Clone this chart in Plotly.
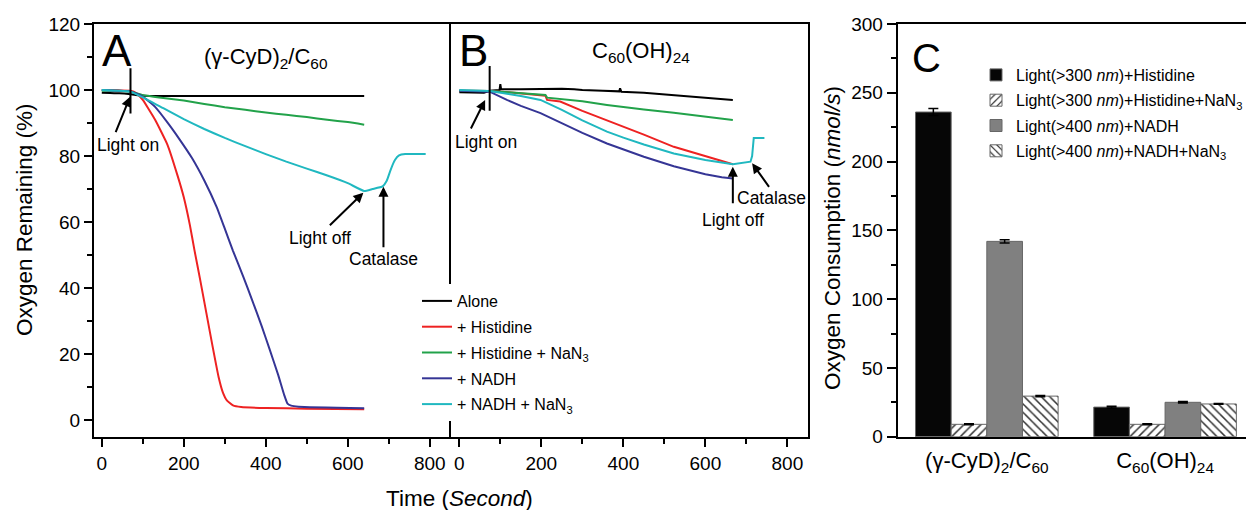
import plotly.graph_objects as go

# ---------------- data: panel A  (gamma-CyD)2/C60 ----------------
tA_alone = [0, 20, 40, 60, 70, 100, 200, 300, 400, 500, 600, 640]
yA_alone = [99.2, 99.1, 99.0, 98.9, 98.7, 98.3, 98.2, 98.2, 98.2, 98.2, 98.2, 98.2]

tA_his = [0, 40, 70, 85, 100, 130, 160, 185, 200, 215, 226, 240, 255, 270, 285, 295, 305, 320, 340, 400, 500, 640]
yA_his = [100.0, 99.9, 99.8, 99.0, 97.0, 91.0, 83.5, 74.0, 67.5, 59.0, 51.5, 42.5, 32.5, 22.5, 13.0, 8.5, 6.0, 4.5, 4.0, 3.7, 3.5, 3.3]

tA_hisn = [0, 40, 70, 100, 150, 200, 250, 300, 350, 400, 450, 500, 550, 600, 640]
yA_hisn = [99.8, 99.8, 99.5, 98.5, 97.6, 96.8, 95.8, 94.8, 94.0, 93.2, 92.5, 91.8, 91.0, 90.3, 89.5]

tA_nadh = [0, 40, 70, 100, 130, 160, 190, 220, 250, 280, 300, 320, 345, 366, 390, 409, 430, 445, 453, 462, 480, 640]
yA_nadh = [100.0, 99.8, 99.6, 98.0, 94.9, 90.2, 85.0, 79.4, 72.6, 64.6, 58.0, 51.3, 43.5, 36.6, 28.5, 21.6, 13.8, 7.6, 5.0, 4.4, 4.1, 3.6]

tA_nadhn = [0, 40, 70, 100, 150, 200, 250, 300, 350, 400, 450, 500, 550, 600, 640, 660, 685, 695, 705, 715, 725, 740, 790]
yA_nadhn = [100.0, 99.8, 99.5, 97.8, 94.5, 91.2, 88.2, 85.5, 83.0, 80.6, 78.3, 76.2, 74.1, 71.8, 69.4, 70.0, 70.8, 72.5, 76.0, 78.8, 80.2, 80.6, 80.6]

# ---------------- data: panel B  C60(OH)24 ----------------
tB_alone = [0, 60, 74, 98, 100, 102, 150, 200, 250, 280, 300, 350, 390, 392, 395, 450, 523, 600, 667]
yB_alone = [99.3, 99.2, 99.8, 100.0, 101.8, 100.2, 100.2, 100.3, 100.4, 100.2, 100.0, 99.8, 99.6, 100.5, 99.5, 99.2, 98.5, 97.7, 97.0]

tB_his = [0, 74, 120, 150, 198, 210, 214, 246, 300, 360, 400, 450, 523, 600, 667]
yB_his = [99.8, 99.7, 99.3, 99.0, 98.5, 98.3, 97.0, 96.5, 93.7, 90.9, 89.0, 86.5, 82.8, 80.0, 77.5]

tB_hisn = [0, 74, 120, 150, 198, 210, 214, 250, 300, 360, 400, 450, 523, 600, 667]
yB_hisn = [99.8, 99.7, 99.3, 99.0, 98.5, 98.5, 97.7, 97.3, 96.6, 95.5, 94.8, 94.1, 93.1, 92.0, 90.9]

tB_nadh = [0, 74, 116, 150, 198, 250, 300, 360, 400, 450, 523, 600, 640, 667]
yB_nadh = [99.8, 99.5, 97.0, 95.2, 93.0, 90.0, 87.0, 83.8, 82.0, 79.8, 76.9, 74.5, 73.6, 73.2]

tB_nadhn = [0, 74, 120, 150, 198, 250, 300, 360, 400, 450, 523, 600, 667, 690, 710, 714, 718, 744]
yB_nadhn = [100.0, 99.7, 98.8, 98.2, 97.0, 94.0, 90.8, 87.4, 85.6, 83.5, 80.8, 78.8, 77.5, 78.0, 78.3, 80.0, 85.5, 85.5]

series_names = ["Alone", "+ Histidine", "+ Histidine + NaN<sub>3</sub>", "+ NADH", "+ NADH + NaN<sub>3</sub>"]
series_colors = ["#000000", "#ee2222", "#22a24a", "#353595", "#20b8c0"]

# ---------------- data: panel C ----------------
groups = ["(γ-CyD)<sub>2</sub>/C<sub>60</sub>", "C<sub>60</sub>(OH)<sub>24</sub>"]
bar_names = ["Light(>300 <i>nm</i>)+Histidine", "Light(>300 <i>nm</i>)+Histidine+NaN<sub>3</sub>",
             "Light(>400 <i>nm</i>)+NADH", "Light(>400 <i>nm</i>)+NADH+NaN<sub>3</sub>"]
c_his = [236.0, 21.5]
c_his_err = [2.5, 0.6]
c_hisn = [9.0, 9.0]
c_hisn_err = [0.4, 0.4]
c_nadh = [142.0, 25.0]
c_nadh_err = [1.2, 0.5]
c_nadhn = [29.5, 23.8]
c_nadhn_err = [0.5, 0.3]

# event markers (time, value)
LIGHT_ON_A = 70
LIGHT_ON_B = 74

W, H = 1246, 510
FONT = "Liberation Sans, Arial, sans-serif"


def px(x):
    return x / W


def py(y):
    return 1 - y / H


fig = go.Figure()

A_sets = [(tA_alone, yA_alone), (tA_his, yA_his), (tA_hisn, yA_hisn), (tA_nadh, yA_nadh), (tA_nadhn, yA_nadhn)]
B_sets = [(tB_alone, yB_alone), (tB_his, yB_his), (tB_hisn, yB_hisn), (tB_nadh, yB_nadh), (tB_nadhn, yB_nadhn)]

for i, (t, y) in enumerate(A_sets):
    fig.add_trace(go.Scatter(x=t, y=y, mode="lines", name=series_names[i],
                             line=dict(color=series_colors[i], width=2, shape="spline", smoothing=0.4),
                             legendgroup="g%d" % i, legend="legend",
                             xaxis="x", yaxis="y"))
for i, (t, y) in enumerate(B_sets):
    fig.add_trace(go.Scatter(x=t, y=y, mode="lines", name=series_names[i],
                             line=dict(color=series_colors[i], width=2),
                             legendgroup="g%d" % i, showlegend=False,
                             xaxis="x2", yaxis="y2"))

bar_vals = [(c_his, c_his_err), (c_hisn, c_hisn_err), (c_nadh, c_nadh_err), (c_nadhn, c_nadhn_err)]
bar_fill = ["#060606", "white", "#808080", "white"]
bar_pat = ["", "/", "", "\\"]
for i, (v, e) in enumerate(bar_vals):
    marker = dict(color=bar_fill[i], line=dict(color="#666666", width=1))
    if bar_pat[i]:
        marker["pattern"] = dict(shape=bar_pat[i], fgcolor="#333333", bgcolor="white",
                                 size=6, solidity=0.25, fillmode="replace")
    fig.add_trace(go.Bar(x=groups, y=v, name=bar_names[i], marker=marker,
                         error_y=dict(type="data", array=e, color="black", thickness=1.5, width=5),
                         legendgroup="c%d" % i, legend="legend2",
                         xaxis="x3", yaxis="y3"))

ydom = [py(436.7), py(24)]
tickfont = dict(family=FONT, size=19, color="black")
common = dict(showgrid=False, zeroline=False, showline=True, linecolor="black", linewidth=2,
              tickfont=tickfont, tickcolor="black", tickwidth=1.5, automargin=False)

fig.update_layout(
    template="none",
    width=W, height=H, margin=dict(l=0, r=0, t=0, b=0, pad=0, autoexpand=False),
    paper_bgcolor="white", plot_bgcolor="white",
    font=dict(family=FONT, color="black"),
    barmode="group", bargap=0.2, bargroupgap=0,
    xaxis=dict(domain=[px(94), px(450.7)], range=[-19, 851], anchor="y", mirror=True,
               ticks="outside", ticklen=8, tickvals=[0, 200, 400, 600, 800],
               minor=dict(ticks="outside", ticklen=5, dtick=100, tick0=0, tickcolor="black", tickwidth=1.5),
               **common),
    yaxis=dict(domain=ydom, range=[-5, 120], anchor="x", mirror=False,
               ticks="outside", ticklen=8, tick0=0, dtick=20,
               minor=dict(ticks="outside", ticklen=5, dtick=10, tick0=0, tickcolor="black", tickwidth=1.5),
               **common),
    xaxis2=dict(domain=[px(450.7), px(808.3)], range=[-21, 851], anchor="y2", mirror=True,
                ticks="outside", ticklen=8, tickvals=[0, 200, 400, 600, 800],
                minor=dict(ticks="outside", ticklen=5, dtick=100, tick0=0, tickcolor="black", tickwidth=1.5),
                **common),
    yaxis2=dict(domain=ydom, range=[-5, 120], anchor="x2", mirror=True, ticks="",
                showticklabels=False, **common),
    xaxis3=dict(domain=[px(897.7), 1.0], range=[-0.5, 1.454], anchor="y3", type="category",
                ticks="", tickfont=dict(family=FONT, size=22, color="black"), automargin=False,
                ticklabelstandoff=3,
                showgrid=False, zeroline=False, showline=True, linecolor="black", linewidth=2, mirror=True),
    yaxis3=dict(domain=ydom, range=[0, 300], anchor="x3", automargin=False,
                ticks="outside", ticklen=9, tick0=0, dtick=50,
                minor=dict(ticks="outside", ticklen=5, dtick=25, tick0=0, tickcolor="black", tickwidth=1.5),
                showgrid=False, zeroline=False, showline=True, linecolor="black", linewidth=2,
                mirror=False, tickfont=tickfont, tickcolor="black", tickwidth=1.5),
    legend=dict(x=px(417), y=py(284), xanchor="left", yanchor="top", bgcolor="white",
                font=dict(family=FONT, size=16, color="black"), tracegroupgap=2,
                traceorder="grouped", borderwidth=0),
    legend2=dict(x=px(976), y=py(58), xanchor="left", yanchor="top", bgcolor="rgba(255,255,255,0)",
                 font=dict(family=FONT, size=16, color="black"), tracegroupgap=1.5,
                 traceorder="grouped", borderwidth=0),
)

# light-on marker lines
fig.add_shape(type="line", xref="x", yref="y", x0=LIGHT_ON_A, x1=LIGHT_ON_A, y0=92.9, y1=106.6,
              line=dict(color="black", width=2))
fig.add_shape(type="line", xref="x2", yref="y2", x0=LIGHT_ON_B, x1=LIGHT_ON_B, y0=93.7, y1=107.3,
              line=dict(color="black", width=2))

# arrows (head in data coords, tail offset in px)
arrows = [
    ("x", "y", 69, 98.0, -15, 37),
    ("x", "y", 638, 68.9, -35, 34),
    ("x", "y", 687, 70.7, 0, 62),
    ("x2", "y2", 63, 97.0, -15, 30),
    ("x2", "y2", 667, 76.8, 0, 38),
    ("x2", "y2", 714, 77.8, 18, 25),
]
for xr, yr, x, y, ax, ay in arrows:
    fig.add_annotation(xref=xr, yref=yr, x=x, y=y, ax=ax, ay=ay, text="", showarrow=True,
                       arrowhead=2, arrowsize=1, arrowwidth=2, arrowcolor="black")


def label(text, x, y, size, angle=0):
    fig.add_annotation(xref="paper", yref="paper", x=px(x), y=py(y), text=text, showarrow=False,
                       xanchor="center", yanchor="middle", textangle=angle,
                       font=dict(family=FONT, size=size, color="black"))


label("Light on", 128, 145, 17.5)
label("Light off", 320, 238, 17.5)
label("Catalase", 383, 259, 17.5)
label("Light on", 486, 142, 17.5)
label("Light off", 733, 220, 17.5)
label("Catalase", 771, 198, 17.5)

label("A", 117, 51, 44)
label("B", 473, 51, 44)
label("C", 926, 58, 40)
label("(γ-CyD)<sub>2</sub>/C<sub>60</sub>", 265, 58, 22)
label("C<sub>60</sub>(OH)<sub>24</sub>", 641, 52, 22)

label("Oxygen Remaining (%)", 24, 220, 22.5, -90)
label("Time (<i>Second</i>)", 459, 498, 22.5)
label("Oxygen Consumption (<i>nmol/s</i>)", 832, 238, 22.5, -90)

fig.write_html("out.html", config={"displayModeBar": False},
               post_script="document.body.style.margin='0px';")
